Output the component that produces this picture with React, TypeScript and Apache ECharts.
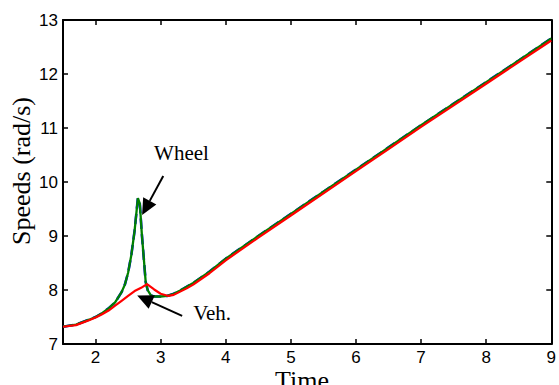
import React, { useEffect, useRef } from "react";
import * as echarts from "echarts";

const wheelTime = [1.5, 1.7, 1.9, 2.0, 2.1, 2.2, 2.3, 2.4, 2.45, 2.5, 2.55, 2.6, 2.65, 2.68, 2.71, 2.74, 2.77, 2.8, 2.85, 2.9, 3.0, 3.1, 3.2, 3.3, 3.5, 3.75, 4.0, 4.5, 5.0, 5.5, 6.0, 6.5, 7.0, 7.5, 8.0, 8.5, 9.0];
const wheelSpeed = [7.32, 7.36, 7.45, 7.5, 7.57, 7.66, 7.77, 7.96, 8.1, 8.32, 8.65, 9.1, 9.7, 9.6, 9.05, 8.6, 8.15, 8.0, 7.9, 7.88, 7.88, 7.89, 7.93, 7.99, 8.13, 8.34, 8.58, 9.0, 9.41, 9.82, 10.23, 10.64, 11.05, 11.45, 11.85, 12.25, 12.66];
const vehTime = [1.5, 1.7, 1.9, 2.0, 2.1, 2.2, 2.3, 2.4, 2.5, 2.6, 2.7, 2.79, 2.9, 3.0, 3.12, 3.2, 3.3, 3.4, 3.5, 3.75, 4.0, 4.5, 5.0, 5.5, 6.0, 6.5, 7.0, 7.5, 8.0, 8.5, 9.0];
const vehSpeed = [7.32, 7.35, 7.44, 7.49, 7.55, 7.62, 7.71, 7.8, 7.89, 7.98, 8.04, 8.11, 8.01, 7.93, 7.89, 7.91, 7.97, 8.03, 8.1, 8.31, 8.55, 8.97, 9.38, 9.79, 10.2, 10.61, 11.02, 11.42, 11.82, 12.22, 12.62];
const xTicks = [2, 3, 4, 5, 6, 7, 8, 9];
const yTicks = [7, 8, 9, 10, 11, 12, 13];

// annotation anchors in data coordinates
const wheelArrow = { tail: [3.04, 10.11], tip: [2.715, 9.39], label: [3.32, 10.54] };
const vehArrow = { tail: [3.33, 7.52], tip: [2.64, 7.9], label: [3.5, 7.57] };

const pairs = (xs: number[], ys: number[]) => xs.map((x, i) => [x, ys[i]]);

function arrowGraphics(tail: number[], tip: number[]) {
  const dx = tip[0] - tail[0];
  const dy = tip[1] - tail[1];
  const len = Math.sqrt(dx * dx + dy * dy);
  const ux = dx / len;
  const uy = dy / len;
  const headLen = 16;
  const halfW = 7.5;
  const bx = tip[0] - ux * headLen;
  const by = tip[1] - uy * headLen;
  const px = -uy;
  const py = ux;
  return [
    {
      type: "line",
      shape: { x1: tail[0], y1: tail[1], x2: bx, y2: by },
      style: { stroke: "#000", lineWidth: 2 },
      z: 100,
    },
    {
      type: "polygon",
      shape: {
        points: [
          [tip[0], tip[1]],
          [bx + px * halfW, by + py * halfW],
          [bx - px * halfW, by - py * halfW],
        ],
      },
      style: { fill: "#000" },
      z: 100,
    },
  ];
}

export default function App() {
  const ref = useRef<HTMLDivElement>(null);
  useEffect(() => {
    if (!ref.current) return;
    const chart = echarts.init(ref.current, undefined, { renderer: "svg" });
    const axisLine = { show: true, lineStyle: { color: "#000", width: 2 } };
    const tickStyle = { show: true, inside: true, length: 5, lineStyle: { color: "#000", width: 1.5 } };
    const labelStyle = { color: "#000", fontFamily: "Liberation Sans", fontSize: 17 };
    const option: any = {
      animation: false,
      backgroundColor: "#fff",
      grid: { left: 63, top: 20, right: 6, bottom: 41 },
      xAxis: [
        {
          type: "value",
          min: 1.5,
          max: 9,
          position: "bottom",
          axisLine,
          axisTick: { ...tickStyle, customValues: xTicks },
          axisLabel: { ...labelStyle, margin: 5, customValues: xTicks },
          splitLine: { show: false },
        },
        {
          type: "value",
          min: 1.5,
          max: 9,
          position: "top",
          axisLine,
          axisTick: { ...tickStyle, customValues: xTicks },
          axisLabel: { show: false },
          splitLine: { show: false },
        },
      ],
      yAxis: [
        {
          type: "value",
          min: 7,
          max: 13,
          interval: 1,
          position: "left",
          axisLine,
          axisTick: { ...tickStyle, customValues: yTicks },
          axisLabel: { ...labelStyle, margin: 5, customValues: yTicks },
          splitLine: { show: false },
        },
        {
          type: "value",
          min: 7,
          max: 13,
          interval: 1,
          position: "right",
          axisLine,
          axisTick: { ...tickStyle, customValues: yTicks },
          axisLabel: { show: false },
          splitLine: { show: false },
        },
      ],
      series: [
        {
          name: "Wheel ref",
          type: "line",
          data: pairs(wheelTime, wheelSpeed),
          showSymbol: false,
          lineStyle: { color: "#0000ff", width: 2.6, type: "dashed" },
          z: 2,
        },
        {
          name: "Wheel",
          type: "line",
          data: pairs(wheelTime, wheelSpeed),
          showSymbol: false,
          lineStyle: { color: "#008000", width: 2.3 },
          z: 3,
        },
        {
          name: "Veh.",
          type: "line",
          data: pairs(vehTime, vehSpeed),
          showSymbol: false,
          lineStyle: { color: "#ff0000", width: 2.2 },
          z: 4,
        },
      ],
    };
    chart.setOption(option);
    const toPx = (p: number[]) => chart.convertToPixel({ gridIndex: 0 }, p) as number[];
    const serif = "Liberation Serif";
    const wl = toPx(wheelArrow.label);
    const vl = toPx(vehArrow.label);
    chart.setOption({
      graphic: [
        ...arrowGraphics(toPx(wheelArrow.tail), toPx(wheelArrow.tip)),
        ...arrowGraphics(toPx(vehArrow.tail), toPx(vehArrow.tip)),
        {
          type: "text",
          x: wl[0],
          y: wl[1],
          style: { text: "Wheel", font: `21px "${serif}"`, fill: "#000", align: "center", verticalAlign: "middle" },
          z: 100,
        },
        {
          type: "text",
          x: vl[0],
          y: vl[1],
          style: { text: "Veh.", font: `21px "${serif}"`, fill: "#000", align: "left", verticalAlign: "middle" },
          z: 100,
        },
        {
          type: "text",
          x: 302,
          y: 380,
          style: { text: "Time", font: `26px "${serif}"`, fill: "#000", align: "center", verticalAlign: "middle" },
        },
        {
          type: "text",
          x: 21,
          y: 171,
          rotation: Math.PI / 2,
          style: { text: "Speeds (rad/s)", font: `26px "${serif}"`, fill: "#000", align: "center", verticalAlign: "middle" },
        },
      ],
    });
    return () => chart.dispose();
  }, []);
  return <div ref={ref} style={{ width: 559, height: 385, position: "absolute", left: 0, top: 0 }} />;
}
